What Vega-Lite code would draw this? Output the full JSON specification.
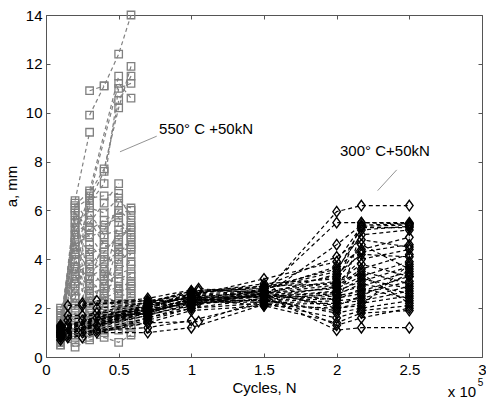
{
  "$schema": "https://vega.github.io/schema/vega-lite/v6.json",
  "width": 436,
  "height": 342,
  "autosize": "none",
  "padding": {"left": 46, "top": 15, "right": 4, "bottom": 45},
  "background": "white",
  "config": {
    "view": {"stroke": "#555", "strokeWidth": 1},
    "font": "Liberation Sans"
  },
  "datasets": {
    "hot": [
      {"s":"G1","x":0.3,"y":9.9},{"s":"G1","x":0.4,"y":11.1},{"s":"G1","x":0.5,"y":12.4},{"s":"G1","x":0.585,"y":14.0},
      {"s":"G2","x":0.3,"y":10.9},{"s":"G2","x":0.4,"y":11.1},
      {"s":"G3","x":0.2,"y":6.4},{"s":"G3","x":0.3,"y":9.2},
      {"s":"G4","x":0.1,"y":1.0},{"s":"G4","x":0.2,"y":3.0},{"s":"G4","x":0.3,"y":6.7},{"s":"G4","x":0.4,"y":7.7},{"s":"G4","x":0.5,"y":10.2},{"s":"G4","x":0.585,"y":11.9},
      {"s":"G5","x":0.1,"y":1.2},{"s":"G5","x":0.2,"y":4.0},{"s":"G5","x":0.3,"y":6.4},{"s":"G5","x":0.4,"y":7.6},{"s":"G5","x":0.5,"y":10.5},{"s":"G5","x":0.585,"y":11.5},
      {"s":"G6","x":0.1,"y":0.9},{"s":"G6","x":0.2,"y":2.5},{"s":"G6","x":0.3,"y":6.3},{"s":"G6","x":0.4,"y":7.1},{"s":"G6","x":0.5,"y":11.0},{"s":"G6","x":0.585,"y":11.2},
      {"s":"G7","x":0.1,"y":1.5},{"s":"G7","x":0.2,"y":5.0},{"s":"G7","x":0.3,"y":6.6},{"s":"G7","x":0.5,"y":11.2},{"s":"G7","x":0.585,"y":10.6},
      {"s":"G8","x":0.1,"y":0.8},{"s":"G8","x":0.2,"y":6.2},{"s":"G8","x":0.3,"y":6.8},{"s":"G8","x":0.5,"y":11.5},
      {"s":"G9","x":0.1,"y":1.0},{"s":"G9","x":0.2,"y":6.3},{"s":"G9","x":0.3,"y":5.5},{"s":"G9","x":0.4,"y":6.3},{"s":"G9","x":0.5,"y":7.1},
      {"s":"G10","x":0.1,"y":0.7},{"s":"G10","x":0.2,"y":6.0},{"s":"G10","x":0.3,"y":3.0},{"s":"G10","x":0.4,"y":4.9},{"s":"G10","x":0.5,"y":6.3},{"s":"G10","x":0.585,"y":6.1},
      {"s":"G11","x":0.1,"y":1.3},{"s":"G11","x":0.2,"y":5.8},{"s":"G11","x":0.3,"y":4.9},{"s":"G11","x":0.4,"y":5.2},{"s":"G11","x":0.5,"y":6.0},{"s":"G11","x":0.585,"y":5.6},
      {"s":"G12","x":0.1,"y":0.6},{"s":"G12","x":0.2,"y":5.5},{"s":"G12","x":0.3,"y":2.0},{"s":"G12","x":0.4,"y":3.2},{"s":"G12","x":0.5,"y":5.5},{"s":"G12","x":0.585,"y":4.9},
      {"s":"G13","x":0.1,"y":1.1},{"s":"G13","x":0.2,"y":5.2},{"s":"G13","x":0.3,"y":4.2},{"s":"G13","x":0.4,"y":4.5},{"s":"G13","x":0.5,"y":4.8},{"s":"G13","x":0.585,"y":5.3},
      {"s":"G14","x":0.1,"y":0.9},{"s":"G14","x":0.2,"y":4.8},{"s":"G14","x":0.3,"y":1.5},{"s":"G14","x":0.4,"y":2.8},{"s":"G14","x":0.5,"y":4.6},{"s":"G14","x":0.585,"y":4.6},
      {"s":"G15","x":0.1,"y":1.4},{"s":"G15","x":0.2,"y":4.5},{"s":"G15","x":0.3,"y":3.5},{"s":"G15","x":0.4,"y":3.9},{"s":"G15","x":0.5,"y":4.3},{"s":"G15","x":0.585,"y":4.5},
      {"s":"G16","x":0.1,"y":0.5},{"s":"G16","x":0.2,"y":4.2},{"s":"G16","x":0.3,"y":1.2},{"s":"G16","x":0.4,"y":2.2},{"s":"G16","x":0.5,"y":4.0},{"s":"G16","x":0.585,"y":4.2},
      {"s":"G17","x":0.1,"y":1.6},{"s":"G17","x":0.2,"y":3.9},{"s":"G17","x":0.3,"y":3.0},{"s":"G17","x":0.4,"y":3.3},{"s":"G17","x":0.5,"y":3.6},{"s":"G17","x":0.585,"y":3.9},
      {"s":"G18","x":0.1,"y":0.8},{"s":"G18","x":0.2,"y":3.6},{"s":"G18","x":0.3,"y":2.8},{"s":"G18","x":0.4,"y":3.0},{"s":"G18","x":0.5,"y":3.4},{"s":"G18","x":0.585,"y":3.6},
      {"s":"G19","x":0.1,"y":2.0},{"s":"G19","x":0.2,"y":3.3},{"s":"G19","x":0.3,"y":2.6},{"s":"G19","x":0.4,"y":2.8},{"s":"G19","x":0.5,"y":3.1},{"s":"G19","x":0.585,"y":3.3},
      {"s":"G20","x":0.1,"y":1.2},{"s":"G20","x":0.2,"y":1.3},{"s":"G20","x":0.3,"y":2.4},{"s":"G20","x":0.4,"y":2.6},{"s":"G20","x":0.5,"y":2.9},{"s":"G20","x":0.585,"y":3.0},
      {"s":"G21","x":0.1,"y":0.6},{"s":"G21","x":0.2,"y":2.7},{"s":"G21","x":0.3,"y":2.2},{"s":"G21","x":0.4,"y":2.4},{"s":"G21","x":0.5,"y":2.7},{"s":"G21","x":0.585,"y":2.8},
      {"s":"G22","x":0.1,"y":1.7},{"s":"G22","x":0.2,"y":2.4},{"s":"G22","x":0.3,"y":4.6},{"s":"G22","x":0.4,"y":4.0},{"s":"G22","x":0.5,"y":2.5},{"s":"G22","x":0.585,"y":2.6},
      {"s":"G23","x":0.1,"y":1.0},{"s":"G23","x":0.2,"y":2.1},{"s":"G23","x":0.3,"y":1.8},{"s":"G23","x":0.4,"y":2.0},{"s":"G23","x":0.5,"y":2.3},{"s":"G23","x":0.585,"y":2.4},
      {"s":"G24","x":0.1,"y":0.7},{"s":"G24","x":0.2,"y":1.8},{"s":"G24","x":0.3,"y":1.6},{"s":"G24","x":0.4,"y":1.8},{"s":"G24","x":0.5,"y":2.1},{"s":"G24","x":0.585,"y":2.2},
      {"s":"G25","x":0.1,"y":1.9},{"s":"G25","x":0.2,"y":1.5},{"s":"G25","x":0.3,"y":1.4},{"s":"G25","x":0.4,"y":1.6},{"s":"G25","x":0.5,"y":1.9},{"s":"G25","x":0.585,"y":2.0},
      {"s":"G26","x":0.1,"y":0.5},{"s":"G26","x":0.2,"y":1.2},{"s":"G26","x":0.3,"y":1.2},{"s":"G26","x":0.4,"y":1.4},{"s":"G26","x":0.5,"y":1.7},{"s":"G26","x":0.585,"y":1.8},
      {"s":"G27","x":0.1,"y":1.1},{"s":"G27","x":0.2,"y":0.9},{"s":"G27","x":0.3,"y":1.0},{"s":"G27","x":0.4,"y":1.2},{"s":"G27","x":0.5,"y":1.5},{"s":"G27","x":0.585,"y":1.6},
      {"s":"G28","x":0.1,"y":0.6},{"s":"G28","x":0.2,"y":0.6},{"s":"G28","x":0.3,"y":0.8},{"s":"G28","x":0.4,"y":1.0},{"s":"G28","x":0.5,"y":1.3},{"s":"G28","x":0.585,"y":1.3},
      {"s":"G29","x":0.1,"y":0.9},{"s":"G29","x":0.2,"y":0.4},{"s":"G29","x":0.3,"y":0.7},{"s":"G29","x":0.4,"y":0.8},{"s":"G29","x":0.5,"y":0.6},{"s":"G29","x":0.585,"y":0.9},
      {"s":"G30","x":0.2,"y":5.9},{"s":"G30","x":0.3,"y":5.2},{"s":"G30","x":0.4,"y":5.6},{"s":"G30","x":0.5,"y":5.9},{"s":"G30","x":0.585,"y":6.0},
      {"s":"G31","x":0.2,"y":3.4},{"s":"G31","x":0.3,"y":3.8},{"s":"G31","x":0.4,"y":4.3},{"s":"G31","x":0.5,"y":5.0},{"s":"G31","x":0.585,"y":5.2},
      {"s":"G32","x":0.2,"y":2.2},{"s":"G32","x":0.3,"y":3.3},{"s":"G32","x":0.4,"y":3.6},{"s":"G32","x":0.5,"y":4.4},{"s":"G32","x":0.585,"y":3.8},
      {"s":"H1","x":0.1,"y":0.7},{"s":"H1","x":0.2,"y":6.1},{"s":"H1","x":0.3,"y":6.5},{"s":"H1","x":0.4,"y":6.6},{"s":"H1","x":0.5,"y":6.7},
      {"s":"H2","x":0.1,"y":1.5},{"s":"H2","x":0.2,"y":5.6},{"s":"H2","x":0.3,"y":5.9},{"s":"H2","x":0.4,"y":5.0},{"s":"H2","x":0.5,"y":5.2},{"s":"H2","x":0.585,"y":5.4},
      {"s":"H3","x":0.1,"y":0.8},{"s":"H3","x":0.2,"y":5.0},{"s":"H3","x":0.3,"y":5.6},{"s":"H3","x":0.4,"y":4.6},{"s":"H3","x":0.5,"y":4.2},{"s":"H3","x":0.585,"y":4.8},
      {"s":"H4","x":0.1,"y":1.2},{"s":"H4","x":0.2,"y":4.6},{"s":"H4","x":0.3,"y":5.0},{"s":"H4","x":0.4,"y":4.1},{"s":"H4","x":0.5,"y":3.8},{"s":"H4","x":0.585,"y":4.4},
      {"s":"H5","x":0.1,"y":0.6},{"s":"H5","x":0.2,"y":4.0},{"s":"H5","x":0.3,"y":4.4},{"s":"H5","x":0.4,"y":3.5},{"s":"H5","x":0.5,"y":3.2},{"s":"H5","x":0.585,"y":3.4},
      {"s":"H6","x":0.1,"y":1.8},{"s":"H6","x":0.2,"y":3.5},{"s":"H6","x":0.3,"y":4.0},{"s":"H6","x":0.4,"y":3.4},{"s":"H6","x":0.5,"y":2.8},{"s":"H6","x":0.585,"y":3.1},
      {"s":"H7","x":0.1,"y":1.0},{"s":"H7","x":0.2,"y":3.1},{"s":"H7","x":0.3,"y":3.6},{"s":"H7","x":0.4,"y":2.9},{"s":"H7","x":0.5,"y":2.6},{"s":"H7","x":0.585,"y":2.9},
      {"s":"H8","x":0.1,"y":0.5},{"s":"H8","x":0.2,"y":2.9},{"s":"H8","x":0.3,"y":3.2},{"s":"H8","x":0.4,"y":2.5},{"s":"H8","x":0.5,"y":2.2},{"s":"H8","x":0.585,"y":2.5},
      {"s":"H9","x":0.1,"y":1.3},{"s":"H9","x":0.2,"y":2.0},{"s":"H9","x":0.3,"y":2.9},{"s":"H9","x":0.4,"y":2.3},{"s":"H9","x":0.5,"y":2.0},{"s":"H9","x":0.585,"y":1.9},
      {"s":"H10","x":0.1,"y":0.9},{"s":"H10","x":0.2,"y":1.6},{"s":"H10","x":0.3,"y":2.5},{"s":"H10","x":0.4,"y":1.9},{"s":"H10","x":0.5,"y":1.6},{"s":"H10","x":0.585,"y":1.5},
      {"s":"H11","x":0.1,"y":1.6},{"s":"H11","x":0.2,"y":1.0},{"s":"H11","x":0.3,"y":2.1},{"s":"H11","x":0.4,"y":1.5},{"s":"H11","x":0.5,"y":1.4},{"s":"H11","x":0.585,"y":1.2},
      {"s":"H12","x":0.1,"y":0.7},{"s":"H12","x":0.2,"y":0.8},{"s":"H12","x":0.3,"y":1.3},{"s":"H12","x":0.4,"y":1.1},{"s":"H12","x":0.5,"y":1.1},{"s":"H12","x":0.585,"y":1.0},
      {"s":"H13","x":0.2,"y":5.3},{"s":"H13","x":0.3,"y":6.1},{"s":"H13","x":0.4,"y":5.9},{"s":"H13","x":0.5,"y":6.5},{"s":"H13","x":0.585,"y":5.8},
      {"s":"H14","x":0.2,"y":4.4},{"s":"H14","x":0.3,"y":5.3},{"s":"H14","x":0.4,"y":5.4},{"s":"H14","x":0.5,"y":5.7},{"s":"H14","x":0.585,"y":5.0}
    ],
    "warm": [
      {"s":"D1","x":0.1,"y":1.0},{"s":"D1","x":0.7,"y":1.8},{"s":"D1","x":1.0,"y":2.3},{"s":"D1","x":1.5,"y":2.6},{"s":"D1","x":2.0,"y":5.95},{"s":"D1","x":2.17,"y":6.2},{"s":"D1","x":2.5,"y":6.2},
      {"s":"D2","x":0.1,"y":1.1},{"s":"D2","x":0.7,"y":1.9},{"s":"D2","x":1.0,"y":2.4},{"s":"D2","x":1.5,"y":2.7},{"s":"D2","x":2.0,"y":5.5},{"s":"D2","x":2.17,"y":5.5},{"s":"D2","x":2.5,"y":5.5},
      {"s":"D3","x":0.1,"y":0.9},{"s":"D3","x":0.7,"y":1.7},{"s":"D3","x":1.0,"y":2.2},{"s":"D3","x":1.5,"y":2.5},{"s":"D3","x":2.0,"y":4.6},{"s":"D3","x":2.17,"y":5.4},{"s":"D3","x":2.5,"y":5.45},
      {"s":"D4","x":0.15,"y":1.2},{"s":"D4","x":0.7,"y":2.0},{"s":"D4","x":1.0,"y":2.5},{"s":"D4","x":1.5,"y":3.2},{"s":"D4","x":2.0,"y":3.9},{"s":"D4","x":2.17,"y":5.35},{"s":"D4","x":2.5,"y":5.4},
      {"s":"D5","x":0.1,"y":0.8},{"s":"D5","x":0.7,"y":1.6},{"s":"D5","x":1.0,"y":2.1},{"s":"D5","x":1.5,"y":2.8},{"s":"D5","x":2.0,"y":3.5},{"s":"D5","x":2.17,"y":5.3},{"s":"D5","x":2.5,"y":5.3},
      {"s":"D6","x":0.15,"y":2.1},{"s":"D6","x":0.7,"y":2.3},{"s":"D6","x":1.0,"y":2.6},{"s":"D6","x":1.5,"y":3.0},{"s":"D6","x":2.0,"y":3.2},{"s":"D6","x":2.17,"y":4.3},{"s":"D6","x":2.5,"y":4.6},
      {"s":"D7","x":0.15,"y":1.5},{"s":"D7","x":0.7,"y":2.2},{"s":"D7","x":1.0,"y":2.7},{"s":"D7","x":1.5,"y":2.9},{"s":"D7","x":2.0,"y":3.0},{"s":"D7","x":2.17,"y":4.0},{"s":"D7","x":2.5,"y":4.4},
      {"s":"D8","x":0.15,"y":0.8},{"s":"D8","x":0.7,"y":1.5},{"s":"D8","x":1.0,"y":2.0},{"s":"D8","x":1.5,"y":2.4},{"s":"D8","x":2.0,"y":2.9},{"s":"D8","x":2.17,"y":3.6},{"s":"D8","x":2.5,"y":4.2},
      {"s":"D9","x":0.25,"y":2.1},{"s":"D9","x":0.7,"y":2.4},{"s":"D9","x":1.05,"y":2.8},{"s":"D9","x":1.5,"y":2.6},{"s":"D9","x":2.0,"y":2.8},{"s":"D9","x":2.17,"y":3.3},{"s":"D9","x":2.5,"y":3.9},
      {"s":"D10","x":0.25,"y":1.5},{"s":"D10","x":0.7,"y":2.1},{"s":"D10","x":1.0,"y":2.45},{"s":"D10","x":1.5,"y":2.45},{"s":"D10","x":2.0,"y":2.7},{"s":"D10","x":2.17,"y":3.1},{"s":"D10","x":2.5,"y":3.7},
      {"s":"D11","x":0.25,"y":1.0},{"s":"D11","x":0.7,"y":1.4},{"s":"D11","x":1.05,"y":1.45},{"s":"D11","x":1.5,"y":2.35},{"s":"D11","x":2.0,"y":2.6},{"s":"D11","x":2.17,"y":2.9},{"s":"D11","x":2.5,"y":3.5},
      {"s":"D12","x":0.35,"y":2.3},{"s":"D12","x":0.7,"y":2.3},{"s":"D12","x":1.0,"y":2.35},{"s":"D12","x":1.5,"y":2.3},{"s":"D12","x":2.0,"y":2.5},{"s":"D12","x":2.17,"y":2.7},{"s":"D12","x":2.5,"y":3.3},
      {"s":"D13","x":0.35,"y":1.8},{"s":"D13","x":0.7,"y":1.9},{"s":"D13","x":1.05,"y":2.25},{"s":"D13","x":1.5,"y":2.25},{"s":"D13","x":2.0,"y":2.4},{"s":"D13","x":2.17,"y":2.6},{"s":"D13","x":2.5,"y":3.1},
      {"s":"D14","x":0.35,"y":1.1},{"s":"D14","x":0.7,"y":1.2},{"s":"D14","x":1.0,"y":1.5},{"s":"D14","x":1.5,"y":2.2},{"s":"D14","x":2.0,"y":2.3},{"s":"D14","x":2.17,"y":2.4},{"s":"D14","x":2.5,"y":2.9},
      {"s":"D15","x":0.35,"y":1.0},{"s":"D15","x":0.7,"y":1.0},{"s":"D15","x":1.0,"y":1.2},{"s":"D15","x":1.5,"y":2.15},{"s":"D15","x":2.0,"y":2.2},{"s":"D15","x":2.17,"y":2.3},{"s":"D15","x":2.5,"y":2.7},
      {"s":"D16","x":0.1,"y":1.3},{"s":"D16","x":0.7,"y":1.85},{"s":"D16","x":1.05,"y":2.35},{"s":"D16","x":1.5,"y":2.1},{"s":"D16","x":2.0,"y":2.0},{"s":"D16","x":2.17,"y":2.2},{"s":"D16","x":2.5,"y":2.5},
      {"s":"D17","x":0.15,"y":1.0},{"s":"D17","x":0.7,"y":1.95},{"s":"D17","x":1.0,"y":2.2},{"s":"D17","x":1.5,"y":2.35},{"s":"D17","x":2.0,"y":1.8},{"s":"D17","x":2.17,"y":2.0},{"s":"D17","x":2.5,"y":2.3},
      {"s":"D18","x":0.25,"y":0.8},{"s":"D18","x":0.7,"y":1.6},{"s":"D18","x":1.0,"y":2.0},{"s":"D18","x":1.5,"y":2.2},{"s":"D18","x":2.0,"y":1.6},{"s":"D18","x":2.17,"y":1.9},{"s":"D18","x":2.5,"y":2.1},
      {"s":"D19","x":0.1,"y":0.7},{"s":"D19","x":0.7,"y":1.4},{"s":"D19","x":1.0,"y":1.9},{"s":"D19","x":1.5,"y":2.1},{"s":"D19","x":2.0,"y":1.4},{"s":"D19","x":2.17,"y":1.8},{"s":"D19","x":2.5,"y":1.9},
      {"s":"D20","x":0.35,"y":1.6},{"s":"D20","x":0.7,"y":1.8},{"s":"D20","x":1.0,"y":2.3},{"s":"D20","x":1.5,"y":2.5},{"s":"D20","x":2.0,"y":1.1},{"s":"D20","x":2.17,"y":1.2},{"s":"D20","x":2.5,"y":1.2},
      {"s":"D21","x":0.1,"y":1.2},{"s":"D21","x":0.7,"y":2.0},{"s":"D21","x":1.0,"y":2.6},{"s":"D21","x":1.5,"y":2.9},{"s":"D21","x":2.0,"y":4.1},{"s":"D21","x":2.17,"y":4.8},{"s":"D21","x":2.5,"y":4.5},
      {"s":"D22","x":0.25,"y":2.2},{"s":"D22","x":0.7,"y":2.2},{"s":"D22","x":1.05,"y":2.7},{"s":"D22","x":1.5,"y":2.8},{"s":"D22","x":2.0,"y":3.3},{"s":"D22","x":2.17,"y":4.6},{"s":"D22","x":2.5,"y":3.6},
      {"s":"D23","x":0.15,"y":1.7},{"s":"D23","x":0.7,"y":1.75},{"s":"D23","x":1.0,"y":2.1},{"s":"D23","x":1.5,"y":2.6},{"s":"D23","x":2.0,"y":2.95},{"s":"D23","x":2.17,"y":5.5},{"s":"D23","x":2.5,"y":5.45},
      {"s":"D24","x":0.1,"y":0.95},{"s":"D24","x":0.7,"y":2.05},{"s":"D24","x":1.0,"y":2.5},{"s":"D24","x":1.5,"y":2.7},{"s":"D24","x":2.0,"y":3.1},{"s":"D24","x":2.17,"y":3.4},{"s":"D24","x":2.5,"y":2.2},
      {"s":"E1","x":0.1,"y":1.05},{"s":"E1","x":0.7,"y":2.1},{"s":"E1","x":1.0,"y":2.55},{"s":"E1","x":1.5,"y":2.75},{"s":"E1","x":2.0,"y":3.7},{"s":"E1","x":2.17,"y":4.4},{"s":"E1","x":2.5,"y":4.9},
      {"s":"E2","x":0.1,"y":0.85},{"s":"E2","x":0.7,"y":1.95},{"s":"E2","x":1.0,"y":2.35},{"s":"E2","x":1.5,"y":2.55},{"s":"E2","x":2.0,"y":3.4},{"s":"E2","x":2.17,"y":4.2},{"s":"E2","x":2.5,"y":4.1},
      {"s":"E3","x":0.15,"y":1.3},{"s":"E3","x":0.7,"y":2.15},{"s":"E3","x":1.0,"y":2.45},{"s":"E3","x":1.5,"y":2.65},{"s":"E3","x":2.0,"y":3.05},{"s":"E3","x":2.17,"y":3.8},{"s":"E3","x":2.5,"y":3.3},
      {"s":"E4","x":0.25,"y":1.2},{"s":"E4","x":0.7,"y":1.9},{"s":"E4","x":1.0,"y":2.4},{"s":"E4","x":1.5,"y":2.5},{"s":"E4","x":2.0,"y":2.85},{"s":"E4","x":2.17,"y":3.5},{"s":"E4","x":2.5,"y":3.0},
      {"s":"E5","x":0.1,"y":1.15},{"s":"E5","x":0.7,"y":2.05},{"s":"E5","x":1.0,"y":2.3},{"s":"E5","x":1.5,"y":2.45},{"s":"E5","x":2.0,"y":2.65},{"s":"E5","x":2.17,"y":3.2},{"s":"E5","x":2.5,"y":2.8},
      {"s":"E6","x":0.35,"y":1.3},{"s":"E6","x":0.7,"y":1.7},{"s":"E6","x":1.0,"y":2.15},{"s":"E6","x":1.5,"y":2.4},{"s":"E6","x":2.0,"y":2.55},{"s":"E6","x":2.17,"y":3.0},{"s":"E6","x":2.5,"y":2.6},
      {"s":"E7","x":0.1,"y":0.9},{"s":"E7","x":0.7,"y":1.8},{"s":"E7","x":1.0,"y":2.25},{"s":"E7","x":1.5,"y":2.55},{"s":"E7","x":2.0,"y":2.35},{"s":"E7","x":2.17,"y":2.8},{"s":"E7","x":2.5,"y":2.4},
      {"s":"E8","x":0.15,"y":0.9},{"s":"E8","x":0.7,"y":2.0},{"s":"E8","x":1.0,"y":2.5},{"s":"E8","x":1.5,"y":2.6},{"s":"E8","x":2.0,"y":2.1},{"s":"E8","x":2.17,"y":2.5},{"s":"E8","x":2.5,"y":3.4},
      {"s":"E9","x":0.25,"y":1.7},{"s":"E9","x":0.7,"y":2.25},{"s":"E9","x":1.0,"y":2.7},{"s":"E9","x":1.5,"y":2.7},{"s":"E9","x":2.0,"y":2.0},{"s":"E9","x":2.17,"y":2.1},{"s":"E9","x":2.5,"y":3.8},
      {"s":"E10","x":0.1,"y":1.0},{"s":"E10","x":0.7,"y":1.85},{"s":"E10","x":1.0,"y":2.35},{"s":"E10","x":1.5,"y":2.3},{"s":"E10","x":2.0,"y":1.9},{"s":"E10","x":2.17,"y":5.2},{"s":"E10","x":2.5,"y":5.35},
      {"s":"E11","x":0.1,"y":1.25},{"s":"E11","x":0.7,"y":2.1},{"s":"E11","x":1.0,"y":2.6},{"s":"E11","x":1.5,"y":2.85},{"s":"E11","x":2.0,"y":3.6},{"s":"E11","x":2.17,"y":5.0},{"s":"E11","x":2.5,"y":5.2},
      {"s":"E12","x":0.35,"y":2.0},{"s":"E12","x":0.7,"y":2.2},{"s":"E12","x":1.0,"y":2.4},{"s":"E12","x":1.5,"y":2.6},{"s":"E12","x":2.0,"y":1.3},{"s":"E12","x":2.17,"y":1.6},{"s":"E12","x":2.5,"y":2.0}
    ],
    "leaders": [
      {"x":0.509,"y":8.40,"x2":0.762,"y2":9.04},
      {"x":2.282,"y":6.81,"x2":2.413,"y2":7.66}
    ],
    "labels": [
      {"x":0.778,"y":9.33,"t":"550° C +50kN"},
      {"x":2.023,"y":8.44,"t":"300° C+50kN"}
    ],
    "mult": [{"x":2.862,"y":-1.45,"t":"x 10"}],
    "expo": [{"x":2.99,"y":-1.08,"t":"5"}]
  },
  "layer": [
    {
      "data": {"name": "hot"},
      "mark": {"type": "line", "color": "#808080", "strokeWidth": 1.2, "strokeDash": [4, 3]},
      "encoding": {
        "x": {"field": "x", "type": "quantitative", "scale": {"domain": [0, 3]},
          "axis": {"orient": "bottom", "values": [0, 0.5, 1, 1.5, 2, 2.5, 3], "format": "~g", "domain": false, "grid": false,
            "tickSize": -4, "tickColor": "#555", "labelFontSize": 15, "labelColor": "#000", "labelPadding": 9, "labelFlush": false, "labelOverlap": false,
            "title": "Cycles, N", "titleFontSize": 15, "titleFontWeight": "normal", "titleColor": "#000", "titlePadding": 3}},
        "y": {"field": "y", "type": "quantitative", "scale": {"domain": [0, 14]},
          "axis": {"orient": "left", "values": [0, 2, 4, 6, 8, 10, 12, 14], "domain": false, "grid": false,
            "tickSize": -4, "tickColor": "#555", "labelFontSize": 15, "labelColor": "#000", "labelPadding": 8, "labelFlush": false, "labelOverlap": false,
            "title": "a, mm", "titleFontSize": 15, "titleFontWeight": "normal", "titleColor": "#000", "titlePadding": 6}},
        "detail": {"field": "s"}
      }
    },
    {
      "data": {"name": "hot"},
      "mark": {"type": "point", "shape": "square", "size": 56, "filled": false, "color": "#808080", "strokeWidth": 1.3, "opacity": 1},
      "encoding": {
        "x": {"field": "x", "type": "quantitative", "scale": {"domain": [0, 3]}, "axis": null},
        "y": {"field": "y", "type": "quantitative", "scale": {"domain": [0, 14]}, "axis": null}
      }
    },
    {
      "data": {"name": "warm"},
      "mark": {"type": "line", "color": "#000", "strokeWidth": 1.2, "strokeDash": [4, 3]},
      "encoding": {
        "x": {"field": "x", "type": "quantitative", "scale": {"domain": [0, 3]}, "axis": null},
        "y": {"field": "y", "type": "quantitative", "scale": {"domain": [0, 14]}, "axis": null},
        "detail": {"field": "s"}
      }
    },
    {
      "data": {"name": "warm"},
      "mark": {"type": "point", "shape": "M0,-1L0.72,0L0,1L-0.72,0Z", "size": 110, "filled": false, "color": "#000", "strokeWidth": 1.4, "opacity": 1},
      "encoding": {
        "x": {"field": "x", "type": "quantitative", "scale": {"domain": [0, 3]}, "axis": null},
        "y": {"field": "y", "type": "quantitative", "scale": {"domain": [0, 14]}, "axis": null}
      }
    },
    {
      "data": {"name": "leaders"},
      "mark": {"type": "rule", "color": "#777", "strokeWidth": 0.8},
      "encoding": {
        "x": {"field": "x", "type": "quantitative", "scale": {"domain": [0, 3]},
          "axis": {"orient": "top", "values": [0, 0.5, 1, 1.5, 2, 2.5, 3], "labels": false, "domain": false, "grid": false, "tickSize": -4, "tickColor": "#555", "title": null}},
        "y": {"field": "y", "type": "quantitative", "scale": {"domain": [0, 14]},
          "axis": {"orient": "right", "values": [0, 2, 4, 6, 8, 10, 12, 14], "labels": false, "domain": false, "grid": false, "tickSize": -4, "tickColor": "#555", "title": null}},
        "x2": {"field": "x2"},
        "y2": {"field": "y2"}
      }
    },
    {
      "data": {"name": "labels"},
      "mark": {"type": "text", "align": "left", "baseline": "middle", "fontSize": 15, "color": "#000", "font": "Liberation Sans"},
      "encoding": {
        "x": {"field": "x", "type": "quantitative", "scale": {"domain": [0, 3]}, "axis": null},
        "y": {"field": "y", "type": "quantitative", "scale": {"domain": [0, 14]}, "axis": null},
        "text": {"field": "t"}
      }
    },
    {
      "data": {"name": "mult"},
      "mark": {"type": "text", "align": "center", "baseline": "middle", "fontSize": 15, "color": "#000", "font": "Liberation Sans"},
      "encoding": {
        "x": {"field": "x", "type": "quantitative", "scale": {"domain": [0, 3]}, "axis": null},
        "y": {"field": "y", "type": "quantitative", "scale": {"domain": [0, 14]}, "axis": null},
        "text": {"field": "t"}
      }
    },
    {
      "data": {"name": "expo"},
      "mark": {"type": "text", "align": "center", "baseline": "middle", "fontSize": 10, "color": "#000", "font": "Liberation Sans"},
      "encoding": {
        "x": {"field": "x", "type": "quantitative", "scale": {"domain": [0, 3]}, "axis": null},
        "y": {"field": "y", "type": "quantitative", "scale": {"domain": [0, 14]}, "axis": null},
        "text": {"field": "t"}
      }
    }
  ],
  "resolve": {"axis": {"x": "independent", "y": "independent"}}
}
